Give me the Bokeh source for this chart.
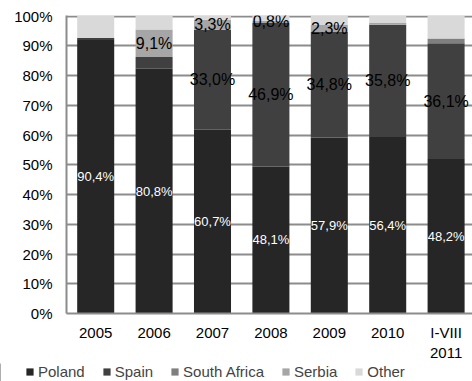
from bokeh.plotting import figure
from bokeh.layouts import column
from bokeh.models import (ColumnDataSource, Range1d, FixedTicker, NumeralTickFormatter,
                          Legend, LegendItem)
from bokeh.embed import file_html
from bokeh.resources import INLINE

# Share of exports by destination country (%)
periods = ["2005", "2006", "2007", "2008", "2009", "2010", "I-VIII\n2011"]
poland = [90.4, 80.8, 60.7, 48.1, 57.9, 56.4, 48.2]
spain = [0.7, 3.9, 33.0, 46.9, 34.8, 35.8, 36.1]
south_africa = [0.0, 0.0, 0.0, 0.0, 0.0, 0.0, 1.5]
serbia = [0.0, 9.1, 3.3, 0.8, 2.3, 0.6, 0.0]
other = [7.2, 4.4, 1.2, 1.5, 2.9, 2.2, 7.0]

series_names = ["Poland", "Spain", "South Africa", "Serbia", "Other"]
series_values = [poland, spain, south_africa, serbia, other]
colors = ["#262626", "#404040", "#7f7f7f", "#a6a6a6", "#d9d9d9"]

# which segments carry a value label
show_label = {
    "Poland": [True] * 7,
    "Spain": [False, False, True, True, True, True, True],
    "Serbia": [False, True, True, True, True, False, False],
}

FONT = "Liberation Sans"
xs = list(range(1, len(periods) + 1))
totals = [sum(col) for col in zip(*series_values)]

p = figure(frame_width=406, frame_height=298, output_backend="svg",
           toolbar_location=None, min_border_left=66, min_border_right=0,
           min_border_top=15, min_border_bottom=0,
           x_range=Range1d(0.5, 0.5 + 406 / 58.4), y_range=Range1d(0, 1.002))
p.outline_line_color = None
p.background_fill_color = "white"
p.border_fill_color = "white"

bottoms = [0.0] * len(xs)
label_rows = []
for name, vals, col in zip(series_names, series_values, colors):
    shares = [v / t for v, t in zip(vals, totals)]
    tops = [b + s for b, s in zip(bottoms, shares)]
    src = ColumnDataSource(dict(x=xs, bottom=bottoms, top=tops))
    p.vbar(x="x", bottom="bottom", top="top", width=0.634, source=src,
           fill_color=col, line_color=None)
    if name in show_label:
        for i, ok in enumerate(show_label[name]):
            if ok:
                label_rows.append((name, xs[i], (bottoms[i] + tops[i]) / 2,
                                   f"{vals[i]:.1f}%".replace(".", ",")))
    bottoms = tops

# value labels: white inside the Poland segment, black elsewhere
for is_pl, color, size in [(True, "white", "13px"), (False, "black", "16px")]:
    rows = [r for r in label_rows if (r[0] == "Poland") == is_pl]
    src = ColumnDataSource(dict(x=[r[1] for r in rows], y=[r[2] for r in rows],
                                t=[r[3] for r in rows]))
    p.text(x="x", y="y", text="t", source=src, text_align="center",
           text_baseline="middle", text_color=color, text_font_size=size,
           text_font={"value": FONT})

# axes
p.xaxis.ticker = FixedTicker(ticks=xs)
p.xaxis.major_label_overrides = {x: lab for x, lab in zip(xs, periods)}
p.xaxis.major_tick_out = 0
p.xaxis.major_tick_in = 0
p.xaxis.minor_tick_out = 0
p.xaxis.minor_tick_in = 0
p.xaxis.axis_label_standoff = 0
p.xaxis.axis_line_color = "#8c8c8c"
p.xaxis.axis_line_width = 2
p.xaxis.major_label_text_font = FONT
p.xaxis.major_label_text_font_size = "15px"
p.xaxis.major_label_text_color = "black"
p.xaxis.major_label_standoff = 10

p.yaxis.ticker = FixedTicker(ticks=[i / 10 for i in range(11)])
p.yaxis.formatter = NumeralTickFormatter(format="0%")
p.yaxis.major_tick_out = 0
p.yaxis.major_tick_in = 0
p.yaxis.minor_tick_out = 0
p.yaxis.minor_tick_in = 0
p.yaxis.axis_label_standoff = 0
p.yaxis.axis_line_color = "#8c8c8c"
p.yaxis.axis_line_width = 2
p.yaxis.major_label_text_font = FONT
p.yaxis.major_label_text_font_size = "15px"
p.yaxis.major_label_text_color = "black"
p.yaxis.major_label_standoff = 14

p.xgrid.grid_line_color = None
p.ygrid.grid_line_color = "#8c8c8c"
p.ygrid.grid_line_width = 2

# legend strip underneath the chart
leg = figure(width=472, height=18, output_backend="svg", toolbar_location=None,
             x_axis_type=None, y_axis_type=None, min_border=0,
             min_border_left=0, min_border_right=0, min_border_top=0, min_border_bottom=0,
             x_range=Range1d(0, 1), y_range=Range1d(0, 1))
leg.outline_line_color = None
leg.grid.visible = False
for fig in (p, leg):
    if "frame_align" in fig.properties():
        fig.frame_align = False

items = []
for name, col in zip(series_names, colors):
    # one off-range bar per series so each legend swatch has a colour to draw
    r = leg.vbar(x=[-5], top=[1], width=0.5, fill_color=col, line_color=None)
    items.append(LegendItem(label=name, renderers=[r]))
legend = Legend(items=items, orientation="horizontal", location=(25, 1),
                label_text_font=FONT, label_text_font_size="15px",
                label_standoff=4, spacing=17, glyph_width=9, glyph_height=9,
                label_height=16, padding=0, margin=0, border_line_color=None,
                background_fill_alpha=0)
leg.add_layout(legend, "center")

layout = column(p, leg, spacing=0)
open("out.html", "w").write(file_html(layout, INLINE))
